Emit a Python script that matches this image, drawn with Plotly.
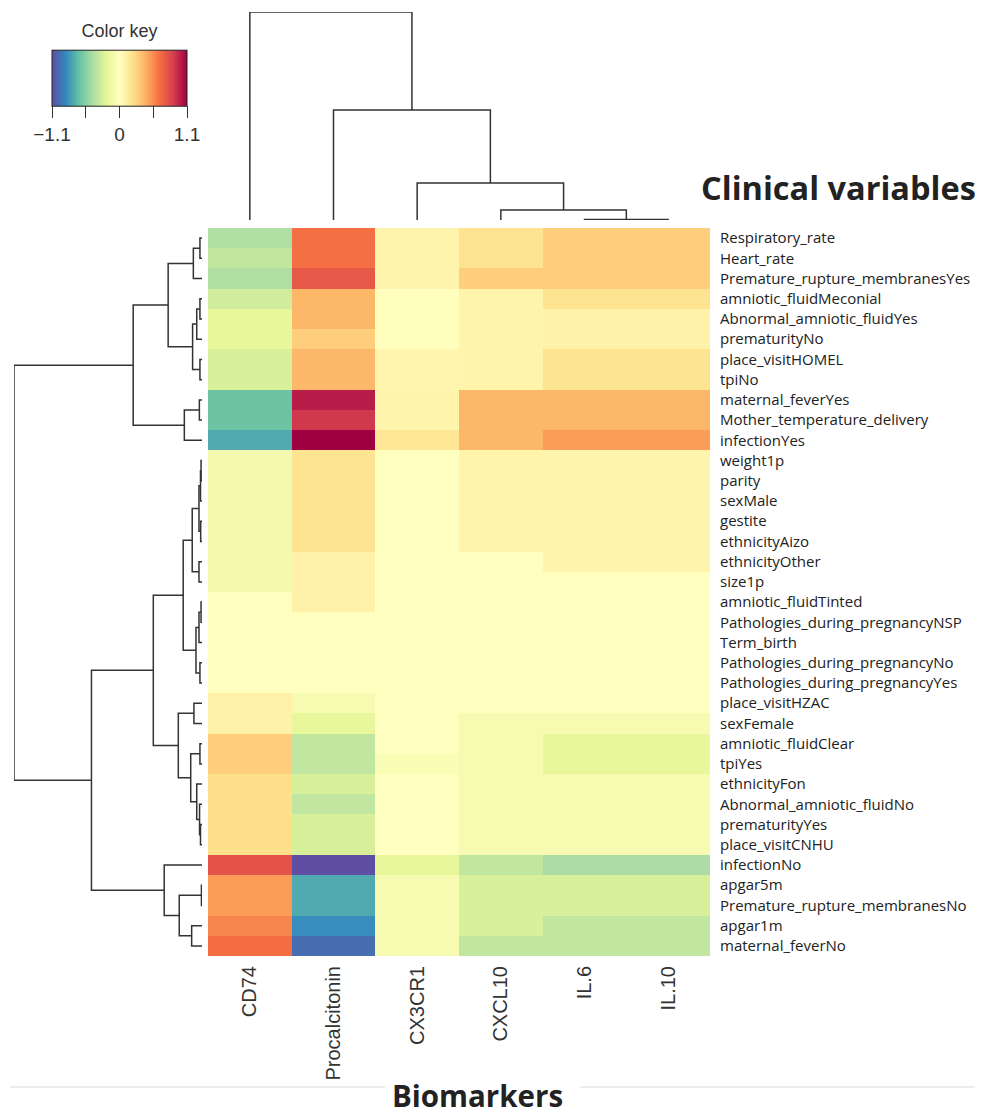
import plotly.graph_objects as go

# ---------------- data ----------------
biomarkers = ["CD74", "Procalcitonin", "CX3CR1", "CXCL10", "IL.6", "IL.10"]

clinical_variables = [
    "Respiratory_rate", "Heart_rate", "Premature_rupture_membranesYes",
    "amniotic_fluidMeconial", "Abnormal_amniotic_fluidYes", "prematurityNo",
    "place_visitHOMEL", "tpiNo", "maternal_feverYes", "Mother_temperature_delivery",
    "infectionYes", "weight1p", "parity", "sexMale", "gestite", "ethnicityAizo",
    "ethnicityOther", "size1p", "amniotic_fluidTinted",
    "Pathologies_during_pregnancyNSP", "Term_birth", "Pathologies_during_pregnancyNo",
    "Pathologies_during_pregnancyYes", "place_visitHZAC", "sexFemale",
    "amniotic_fluidClear", "tpiYes", "ethnicityFon", "Abnormal_amniotic_fluidNo",
    "prematurityYes", "place_visitCNHU", "infectionNo", "apgar5m",
    "Premature_rupture_membranesNo", "apgar1m", "maternal_feverNo",
]

cd74 = [-0.42, -0.36, -0.42, -0.30, -0.20, -0.20, -0.27, -0.27, -0.64, -0.64, -0.75,
        -0.10, -0.10, -0.10, -0.10, -0.10, -0.10, -0.10, 0.0, 0.0, 0.0, 0.0, 0.0,
        0.10, 0.10, 0.30, 0.30, 0.22, 0.22, 0.22, 0.22, 0.78, 0.50, 0.50, 0.58, 0.66]
procalcitonin = [0.65, 0.65, 0.76, 0.40, 0.40, 0.30, 0.40, 0.40, 1.00, 0.90, 1.10,
                 0.20, 0.20, 0.20, 0.20, 0.20, 0.10, 0.10, 0.10, 0.0, 0.0, 0.0, 0.0,
                 -0.08, -0.20, -0.36, -0.36, -0.27, -0.36, -0.27, -0.27,
                 -1.10, -0.75, -0.75, -0.86, -0.98]
cx3cr1 = [0.08, 0.08, 0.08, 0.01, 0.01, 0.01, 0.07, 0.07, 0.08, 0.08, 0.18,
          0.0, 0.0, 0.0, 0.0, 0.0, 0.0, 0.0, 0.0, 0.0, 0.0, 0.0, 0.0,
          0.0, 0.0, 0.0, -0.05, 0.0, 0.0, 0.0, 0.0, -0.20, -0.08, -0.08, -0.08, -0.08]
cxcl10 = [0.20, 0.20, 0.30, 0.08, 0.08, 0.08, 0.08, 0.08, 0.40, 0.40, 0.40,
          0.08, 0.08, 0.08, 0.08, 0.08, 0.0, 0.0, 0.0, 0.0, 0.0, 0.0, 0.0,
          0.0, -0.08, -0.08, -0.08, -0.08, -0.08, -0.08, -0.08,
          -0.36, -0.27, -0.27, -0.27, -0.36]
il6 = [0.30, 0.30, 0.30, 0.20, 0.10, 0.10, 0.20, 0.20, 0.40, 0.40, 0.50,
       0.08, 0.08, 0.08, 0.08, 0.08, 0.08, 0.0, 0.0, 0.0, 0.0, 0.0, 0.0,
       0.0, -0.08, -0.20, -0.20, -0.08, -0.08, -0.08, -0.08,
       -0.44, -0.27, -0.27, -0.36, -0.36]
il10 = [0.30, 0.30, 0.30, 0.20, 0.10, 0.10, 0.20, 0.20, 0.40, 0.40, 0.50,
        0.08, 0.08, 0.08, 0.08, 0.08, 0.08, 0.0, 0.0, 0.0, 0.0, 0.0, 0.0,
        0.0, -0.08, -0.20, -0.20, -0.08, -0.08, -0.08, -0.08,
        -0.44, -0.27, -0.27, -0.36, -0.36]

# dendrogram structures: [left, right, merge height]; ints are leaf (row/column) indices
rows_A1 = [[[0, 1, 0.011], 2, 0.046],
           [[[3, 4, 0.011], 5, 0.028], [6, 7, 0.011], 0.050],
           0.180]
rows_A2 = [[8, 9, 0.014], 10, 0.094]
rows_B1a = [[[[[11, 12, 0.005], 13, 0.008], [14, 15, 0.007], 0.016], [16, 17, 0.016], 0.052],
            [[[18, 19, 0.005], 20, 0.016], [21, 22, 0.011], 0.032],
            0.100]
rows_B1b = [[23, 24, 0.043],
            [[25, 26, 0.011], [27, [28, [29, 30, 0.008], 0.013], 0.028], 0.060],
            0.126]
rows_B2 = [31, [[32, 33, 0.003], [34, 35, 0.055], 0.121], 0.201]
row_tree = [[rows_A1, rows_A2, 0.366],
            [[rows_B1a, rows_B1b, 0.259], rows_B2, 0.588],
            1.0]

col_tree = [0, [1, [2, [3, [4, 5, 0.002], 0.048], 0.178], 0.529], 1.0]

key_ticks = [-1.1, -0.55, 0, 0.55, 1.1]
key_labels = ["\u22121.1", "", "0", "", "1.1"]

spectral = ["#5E4FA2", "#3288BD", "#66C2A5", "#ABDDA4", "#E6F598", "#FFFFBF",
            "#FEE08B", "#FDAE61", "#F46D43", "#D53E4F", "#9E0142"]

# ---------------- helpers ----------------
OFF = 8                      # page body margin of the browser
W, H = 984 - OFF, 1117 - OFF


def px_x(p):
    return (p - OFF) / W


def px_y(p):
    return 1 - (p - OFF) / H


def dendro(node, pos_list, h_list):
    if isinstance(node, int):
        return float(node), 0.0
    left, right, h = node
    pl, hl = dendro(left, pos_list, h_list)
    pr, hr = dendro(right, pos_list, h_list)
    pos_list += [pl, pl, pr, pr, None]
    h_list += [hl, h, h, hr, None]
    return (pl + pr) / 2, h


z = [list(r) for r in zip(cd74, procalcitonin, cx3cr1, cxcl10, il6, il10)]
colorscale = [[i / (len(spectral) - 1), c] for i, c in enumerate(spectral)]

fig = go.Figure()

fig.add_trace(go.Heatmap(
    z=z, x=list(range(len(biomarkers))), y=list(range(len(clinical_variables))),
    zmin=-1.1, zmax=1.1, colorscale=colorscale, hoverinfo="skip",
    colorbar=dict(
        orientation="h", x=px_x(119.5), xanchor="center",
        y=px_y(146), yanchor="bottom",
        len=135, lenmode="pixels", thickness=56, thicknessmode="pixels",
        outlinewidth=1, outlinecolor="#222", xpad=0, ypad=0,
        ticks="outside", ticklen=12, tickwidth=1, tickcolor="#333",
        tickvals=key_ticks, ticktext=key_labels,
        tickfont=dict(family="Liberation Sans", size=19, color="#333"),
        title=dict(text="Color key", side="top",
                   font=dict(family="Liberation Sans", size=18, color="#333")),
    ),
))

rp, rh = [], []
dendro(row_tree, rp, rh)
fig.add_trace(go.Scatter(x=rh, y=rp, mode="lines", xaxis="x2", yaxis="y2",
                         line=dict(color="#333", width=1.5), hoverinfo="skip",
                         showlegend=False))

cp, ch = [], []
dendro(col_tree, cp, ch)
fig.add_trace(go.Scatter(x=cp, y=ch, mode="lines", xaxis="x3", yaxis="y3",
                         line=dict(color="#333", width=1.5), hoverinfo="skip",
                         showlegend=False))

heat_x = [px_x(208), px_x(710)]
heat_y = [px_y(956), px_y(228)]
nrow = len(clinical_variables)
ncol = len(biomarkers)

fig.update_layout(
    width=W, height=H,
    margin=dict(l=0, r=0, t=0, b=0, autoexpand=False),
    paper_bgcolor="white", plot_bgcolor="white",
    showlegend=False,
    xaxis=dict(domain=heat_x, range=[-0.5, ncol - 0.5], anchor="y",
               tickvals=list(range(ncol)), ticktext=biomarkers, tickangle=-90,
               showgrid=False, zeroline=False, showline=False, ticks="",
               ticklabelstandoff=5, automargin=False,
               tickfont=dict(family="Liberation Sans", size=20, color="#333")),
    yaxis=dict(domain=heat_y, range=[nrow - 0.5, -0.5], anchor="x", side="right",
               tickvals=list(range(nrow)), ticktext=clinical_variables,
               showgrid=False, zeroline=False, showline=False, ticks="",
               ticklabelstandoff=9, automargin=False,
               tickfont=dict(family="Open Sans", size=15, color="#222")),
    xaxis2=dict(domain=[px_x(14), px_x(202)], range=[1, 0], anchor="y2",
                visible=False, automargin=False),
    yaxis2=dict(domain=heat_y, range=[nrow - 0.5, -0.5], anchor="x2",
                visible=False, automargin=False),
    xaxis3=dict(domain=heat_x, range=[-0.5, ncol - 0.5], anchor="y3",
                visible=False, automargin=False),
    yaxis3=dict(domain=[px_y(220), px_y(12)], range=[0, 1], anchor="x3",
                visible=False, automargin=False),
    annotations=[
        dict(text="<b>Clinical variables</b>", x=px_x(838), y=px_y(187),
             xref="paper", yref="paper", xanchor="center", yanchor="middle",
             showarrow=False,
             font=dict(family="Open Sans", size=32.5, color="#222")),
        dict(text="<b>Biomarkers</b>", x=px_x(477), y=px_y(1117),
             xref="paper", yref="paper", xanchor="center", yanchor="bottom",
             showarrow=False, borderpad=0,
             font=dict(family="Open Sans", size=29.5, color="#222")),
    ],
    shapes=[
        dict(type="line", xref="paper", yref="paper", x0=px_x(10), x1=px_x(385),
             y0=px_y(1087), y1=px_y(1087), line=dict(color="#d9d9d9", width=1)),
        dict(type="line", xref="paper", yref="paper", x0=px_x(580), x1=px_x(975),
             y0=px_y(1087), y1=px_y(1087), line=dict(color="#d9d9d9", width=1)),
    ],
)

fig.write_html("out.html")
